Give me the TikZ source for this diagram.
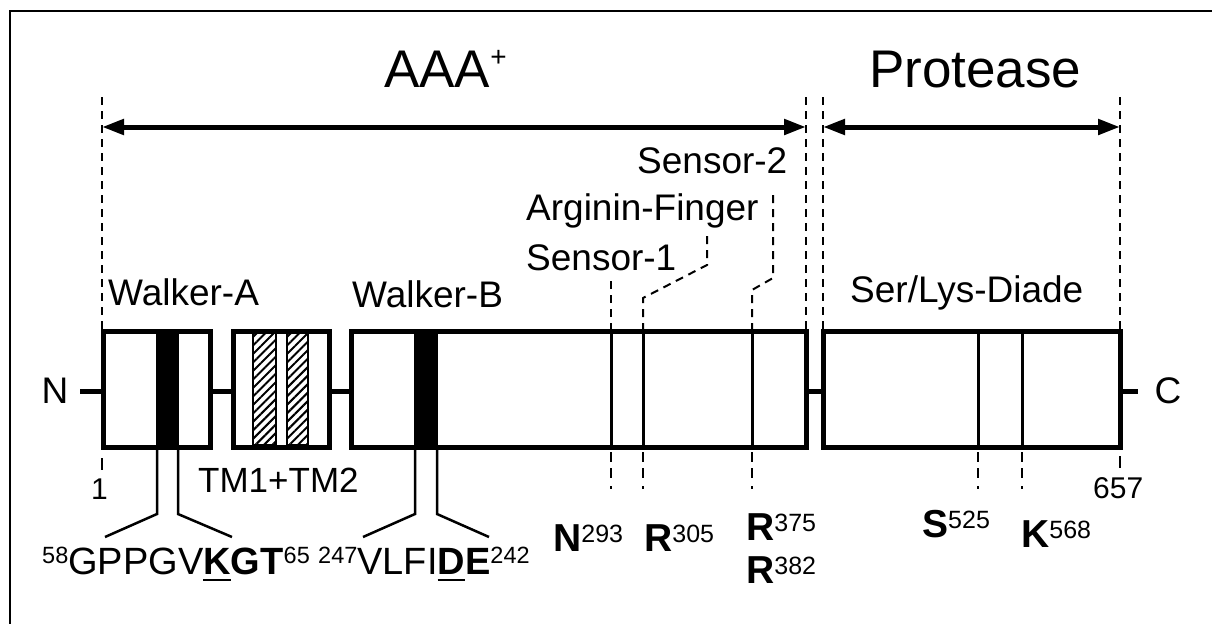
\documentclass[tikz,border=0pt]{standalone}
\usepackage{fontspec}
\setmainfont{Liberation Sans}
\usetikzlibrary{arrows.meta,patterns.meta}
\newcommand\fs[1]{\fontsize{#1}{#1}\selectfont}
\newcommand\supx[2]{\raisebox{#1}{\fs{25}#2}}
\newcommand\supy[2]{\raisebox{#1}{\fs{23.5}#2}}
\newcommand\ulx[1]{\setbox0\hbox{#1}\rlap{\rule[-7pt]{\wd0}{2.5pt}}\box0}
\begin{document}
\begin{tikzpicture}[x=1pt,y=-1pt,
  lbl/.style={inner sep=0pt,anchor=base west,font=\fs{37}},
  seq/.style={inner sep=0pt,anchor=base west,font=\fs{38}},
  ttl/.style={inner sep=0pt,anchor=base west,font=\fs{53}},
  res/.style={inner sep=0pt,anchor=base west,font=\fs{39}},
  num/.style={inner sep=0pt,anchor=base west,font=\fs{30}},
  dom/.style={draw,line width=5pt,fill=white},
  resline/.style={line width=3pt},
  guide/.style={line width=2pt,dash pattern=on 8pt off 6pt},
  tickline/.style={line width=2pt,dash pattern=on 10pt off 6pt on 10pt off 8pt on 3pt off 20pt},
  stalk/.style={line width=2.5pt},
  spanarr/.style={line width=5pt,{Triangle[length=22pt,width=15pt]}-{Triangle[length=22pt,width=15pt]}},
  hatch/.style={draw,line width=1.5pt,pattern={Lines[angle=45,distance=6pt,line width=2pt]}}]
\useasboundingbox (0,0) rectangle (1212,624);
% frame (top and left edges)
\draw[line width=2pt] (1212,10.5) -- (10,10.5) -- (10,624);
% titles
\node[ttl] (aaa) at (384,87) {AAA\raisebox{21pt}{\fs{28}+}};
\node[ttl] (prot) at (869,87) {Protease};
% guides
\foreach \n/\x in {g1/102,g2/806,g3/823,g4/1120}{
  \coordinate (\n t) at (\x,97);
  \coordinate (\n b) at (\x,331);
  \draw[guide] (\n t) -- (\n b);
}
\coordinate (a1) at (102,127); \coordinate (a2) at (806,127);
\coordinate (p1) at (823,127); \coordinate (p2) at (1120,127);
\draw[spanarr] (a1) -- (a2);
\draw[spanarr] (p1) -- (p2);
% backbone
\coordinate (nend) at (80,391); \coordinate (cend) at (1138,391);
\draw[line width=5pt] (nend) -- (cend);
\node[inner sep=0pt,font=\fs{37}] (N) at (55,391) {N};
\node[inner sep=0pt,font=\fs{37}] (C) at (1168,391) {C};
% domains
\draw[dom] (103,331) rectangle (210,447);
\draw[dom] (233,331) rectangle (329,447);
\draw[dom] (351,331) rectangle (806,447);
\draw[dom] (823,331) rectangle (1120,447);
\fill (156,333) rectangle (179,445);
\fill (414,333) rectangle (438,445);
\draw[hatch] (253,333.5) rectangle (276,444.5);
\draw[hatch] (287,333.5) rectangle (308,444.5);
% residue marks
\foreach \n/\x in {s1/611,af/643,s2/752,ser/978,lys/1022}{
  \coordinate (\n t) at (\x,331);
  \coordinate (\n b) at (\x,447);
  \coordinate (\n d) at (\x,452);
  \coordinate (\n e) at (\x,492);
  \draw[resline] (\n t) -- (\n b);
  \draw[tickline] (\n d) -- (\n e);
}
% labels above
\node[lbl] (wa) at (108,305) {Walker-A};
\node[lbl] (wb) at (352,307) {Walker-B};
\node[lbl] (sd) at (850,302) {Ser/Lys-Diade};
\node[lbl] (sen1) at (526,270) {Sensor-1};
\node[lbl] (arg) at (526,220) {Arginin-Finger};
\node[lbl] (sen2) at (637,173) {Sensor-2};
\coordinate (s1u) at (611,280);
\coordinate (afk) at (643,298); \coordinate (afm) at (707,265); \coordinate (afu) at (707,235);
\coordinate (s2k) at (752,290); \coordinate (s2m) at (773,278); \coordinate (s2u) at (773,192);
\draw[guide] (s1t) -- (s1u);
\draw[guide] (aft) -- (afk) -- (afm) -- (afu);
\draw[guide] (s2t) -- (s2k) -- (s2m) -- (s2u);
% ends
\coordinate (o1) at (102,458); \coordinate (o2) at (102,470);
\coordinate (o3) at (1120,456); \coordinate (o4) at (1120,468);
\draw[line width=2pt] (o1) -- (o2);
\draw[line width=2pt] (o3) -- (o4);
\node[num] (one) at (91,499) {1};
\node[num] (end) at (1093,498) {657};
\node[lbl,font=\fs{35}] (tm) at (198,492) {TM1+TM2};
% stalks
\coordinate (wa1) at (157,447); \coordinate (wa2) at (157,514); \coordinate (wa3) at (105,537);
\coordinate (wa4) at (178,447); \coordinate (wa5) at (178,514); \coordinate (wa6) at (232,537);
\coordinate (wb1) at (415,447); \coordinate (wb2) at (415,514); \coordinate (wb3) at (363,537);
\coordinate (wb4) at (437,447); \coordinate (wb5) at (437,514); \coordinate (wb6) at (489,537);
\draw[stalk] (wa1) -- (wa2) -- (wa3);
\draw[stalk] (wa4) -- (wa5) -- (wa6);
\draw[stalk] (wb1) -- (wb2) -- (wb3);
\draw[stalk] (wb4) -- (wb5) -- (wb6);
% sequences
\node[seq] (seqa) at (42,574) {\supy{10.5pt}{58}GPPGV\ulx{\textbf{K}}\textbf{GT}\supy{10.5pt}{65}};
\node[seq] (seqb) at (318,574) {\supy{10.5pt}{247}VLFI\ulx{\textbf{D}}\textbf{E}\supy{10.5pt}{242}};
% residues
\node[res] (rn) at (553,551) {\textbf{N}\supx{9pt}{293}};
\node[res] (r305) at (644,551) {\textbf{R}\supx{9pt}{305}};
\node[res] (r375) at (746,540) {\textbf{R}\supx{9pt}{375}};
\node[res] (r382) at (746,583) {\textbf{R}\supx{9pt}{382}};
\node[res] (s525) at (922,537) {\textbf{S}\supx{9pt}{525}};
\node[res] (k568) at (1021,547) {\textbf{K}\supx{9pt}{568}};
\end{tikzpicture}
\end{document}
